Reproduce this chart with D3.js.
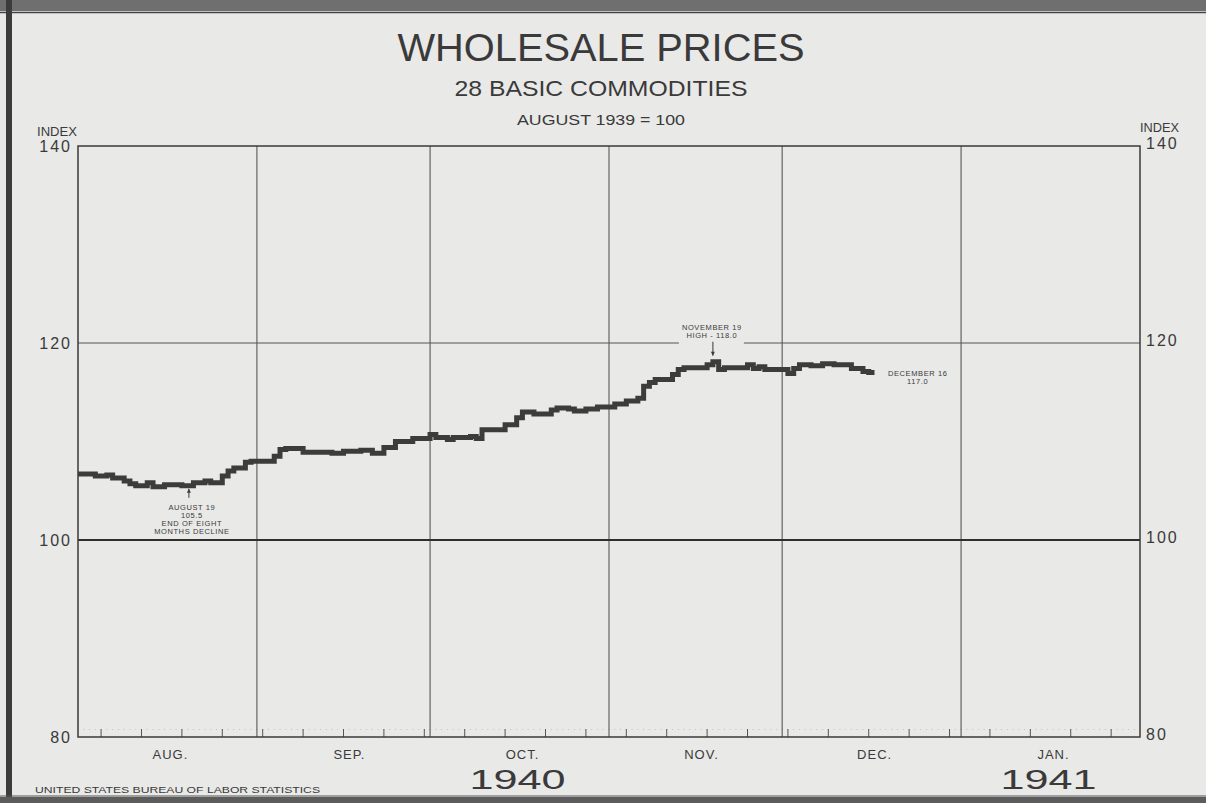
<!DOCTYPE html>
<html>
<head>
<meta charset="utf-8">
<script src="https://cdn.jsdelivr.net/npm/d3@7"></script>
<style>
    body { margin: 0; background: #e9e9e8; }
    svg { display: block; }
    text { font-family: "Liberation Sans", Arial, sans-serif; fill: #3a3a3a; }
</style>
</head>
<body>
<div id="chart"></div>
<script>
// daily index, 28 basic commodities (August 1939 = 100), value holds until next date
const priceDates = ["1940-08-01","1940-08-04","1940-08-06","1940-08-07","1940-08-09","1940-08-10","1940-08-11",
    "1940-08-13","1940-08-14","1940-08-16","1940-08-19","1940-08-21","1940-08-23","1940-08-24","1940-08-26",
    "1940-08-27","1940-08-28","1940-08-30","1940-08-31","1940-09-04","1940-09-05","1940-09-06","1940-09-09",
    "1940-09-14","1940-09-16","1940-09-19","1940-09-21","1940-09-23","1940-09-25","1940-09-28","1940-10-01",
    "1940-10-02","1940-10-04","1940-10-05","1940-10-08","1940-10-09","1940-10-10","1940-10-14","1940-10-16",
    "1940-10-17","1940-10-19","1940-10-22","1940-10-23","1940-10-25","1940-10-26","1940-10-28","1940-10-30",
    "1940-11-02","1940-11-04","1940-11-06","1940-11-07","1940-11-08","1940-11-09","1940-11-12","1940-11-13",
    "1940-11-14","1940-11-18","1940-11-19","1940-11-20","1940-11-21","1940-11-25","1940-11-26","1940-11-27",
    "1940-11-28","1940-12-02","1940-12-03","1940-12-04","1940-12-06","1940-12-08","1940-12-10","1940-12-13",
    "1940-12-15","1940-12-16"];
const priceValues = [106.7,106.5,106.6,106.3,106.0,105.7,105.5,105.8,105.4,105.6,105.5,105.8,106.0,105.8,106.5,
    107.0,107.3,107.9,108.0,108.5,109.2,109.3,108.9,108.8,109.0,109.1,108.8,109.4,110.0,110.3,110.7,
    110.4,110.2,110.4,110.5,110.3,111.2,111.7,112.4,113.0,112.8,113.2,113.4,113.3,113.1,113.3,113.5,
    113.8,114.1,114.4,115.6,116.0,116.3,116.8,117.3,117.5,117.8,118.1,117.3,117.5,117.8,117.4,117.6,
    117.3,116.9,117.4,117.8,117.7,117.9,117.8,117.4,117.1,117.0];

const monthLabels = ["AUG.", "SEP.", "OCT.", "NOV.", "DEC.", "JAN."];
const yearLabels = ["1940", "1941"];
const yearUnder = ["OCT.", "JAN."];
const yTicks = [80, 100, 120, 140];

const lowDate = "1940-08-19", lowValue = 105.5;
const lowLines = ["AUGUST 19", "105.5", "END OF EIGHT", "MONTHS DECLINE"];
const highDate = "1940-11-19", highValue = 118.1;
const highLines = ["NOVEMBER 19", "HIGH - 118.0"];
const lastLines = ["DECEMBER 16", "117.0"];

const width = 1206, height = 803;
const plotLeft = 78, plotRight = 1140, plotTop = 146, plotBottom = 737;
const ink = "#3a3a3a";
const paper = "#e9e9e8";
const parse = d3.timeParse("%Y-%m-%d");

let svg = d3.select("#chart")
    .append("svg")
    .attr("width", width)
    .attr("height", height);

// worn frame of the original plate
svg.append("rect").attr("x", 0).attr("y", 0).attr("width", width).attr("height", 11).attr("fill", "#6f6f6f");
svg.append("line").attr("x1", 0).attr("x2", width).attr("y1", 12.5).attr("y2", 12.5)
    .attr("stroke", "#444").attr("stroke-width", 1.5);
svg.append("rect").attr("x", 6).attr("y", 0).attr("width", 6).attr("height", height).attr("fill", "#3c3c3c");
svg.append("rect").attr("x", 0).attr("y", 797).attr("width", width).attr("height", 6).attr("fill", "#5c5c5c");
svg.append("line").attr("x1", 0).attr("x2", width).attr("y1", 796).attr("y2", 796)
    .attr("stroke", "#555").attr("stroke-width", 1);

let x = d3.scaleTime()
    .domain([new Date(1940, 7, 1), new Date(1941, 1, 1)])
    .range([plotLeft, plotRight]);

let y = d3.scaleLinear()
    .domain([80, 140])
    .range([plotBottom, plotTop]);

let months = d3.timeMonth.range(x.domain()[0], x.domain()[1]);

// titles
function title(txt, cy, size, len) {
    svg.append("text")
        .text(txt)
        .attr("x", width / 2 - 2)
        .attr("y", cy)
        .attr("text-anchor", "middle")
        .attr("font-size", size)
        .attr("textLength", len)
        .attr("lengthAdjust", "spacingAndGlyphs");
}
title("WHOLESALE PRICES", 61, 38, 407);
title("28 BASIC COMMODITIES", 96, 22, 293);
title("AUGUST 1939 = 100", 125, 14, 168);

// dotted daily marks along the base
svg.append("g")
    .selectAll("line")
    .data(d3.timeDay.range(x.domain()[0], x.domain()[1]))
    .enter()
    .append("line")
    .attr("x1", d => x(d)).attr("x2", d => x(d))
    .attr("y1", plotBottom - 8).attr("y2", plotBottom - 7)
    .attr("stroke", "#999").attr("stroke-width", 1).attr("opacity", 0.5);

// weekly ticks
svg.append("g")
    .selectAll("line")
    .data(d3.timeMonday.range(x.domain()[0], x.domain()[1]))
    .enter()
    .append("line")
    .attr("x1", d => x(d)).attr("x2", d => x(d))
    .attr("y1", plotBottom).attr("y2", plotBottom - 8)
    .attr("stroke", "#555").attr("stroke-width", 1);

// month grid
svg.append("g")
    .selectAll("line")
    .data(months.slice(1))
    .enter()
    .append("line")
    .attr("x1", d => x(d)).attr("x2", d => x(d))
    .attr("y1", plotTop).attr("y2", plotBottom)
    .attr("stroke", "#4a4a4a").attr("stroke-width", 1);

svg.append("line")
    .attr("x1", plotLeft).attr("x2", plotRight)
    .attr("y1", y(120)).attr("y2", y(120))
    .attr("stroke", "#555").attr("stroke-width", 1);

svg.append("line")
    .attr("x1", plotLeft).attr("x2", plotRight)
    .attr("y1", y(100)).attr("y2", y(100))
    .attr("stroke", "#2e2e2e").attr("stroke-width", 2);

svg.append("rect")
    .attr("x", plotLeft).attr("y", plotTop)
    .attr("width", plotRight - plotLeft).attr("height", plotBottom - plotTop)
    .attr("fill", "none").attr("stroke", ink).attr("stroke-width", 1.5);

// y axes, both sides
let yLeft = svg.append("g")
    .attr("transform", "translate(" + plotLeft + ",0)")
    .call(d3.axisLeft(y).tickValues(yTicks).tickSize(0).tickPadding(6));
let yRight = svg.append("g")
    .attr("transform", "translate(" + plotRight + ",-3)")
    .call(d3.axisRight(y).tickValues(yTicks).tickSize(0).tickPadding(6));
[yLeft, yRight].forEach(function (g) {
    g.select(".domain").remove();
    g.selectAll("text")
        .attr("font-family", "Liberation Sans, Arial, sans-serif")
        .attr("font-size", 16)
        .attr("fill", ink)
        .attr("letter-spacing", 2);
});

svg.append("text").text("INDEX").attr("x", 37).attr("y", 136)
    .attr("font-size", 12).attr("textLength", 40).attr("lengthAdjust", "spacingAndGlyphs");
svg.append("text").text("INDEX").attr("x", 1140).attr("y", 132)
    .attr("font-size", 12).attr("textLength", 39).attr("lengthAdjust", "spacingAndGlyphs");

// month and year labels
function midMonth(i) {
    return d3.timeHour.offset(months[i], 15 * 24 + 12);
}
svg.append("g")
    .selectAll("text")
    .data(monthLabels)
    .enter()
    .append("text")
    .text(d => d)
    .attr("x", (d, i) => x(midMonth(i)) + 3)
    .attr("y", 759)
    .attr("text-anchor", "middle")
    .attr("font-size", 13)
    .attr("letter-spacing", 1);

svg.append("g")
    .selectAll("text")
    .data(yearLabels)
    .enter()
    .append("text")
    .text(d => d)
    .attr("x", (d, i) => x(midMonth(monthLabels.indexOf(yearUnder[i]))) - 2)
    .attr("y", 789)
    .attr("text-anchor", "middle")
    .attr("font-size", 28)
    .attr("textLength", 96)
    .attr("lengthAdjust", "spacingAndGlyphs");

svg.append("text")
    .text("UNITED STATES BUREAU OF LABOR STATISTICS")
    .attr("x", 35).attr("y", 793)
    .attr("font-size", 9.5)
    .attr("textLength", 285)
    .attr("lengthAdjust", "spacingAndGlyphs");

// price line
let series = priceDates.map((d, i) => ({ date: parse(d), value: priceValues[i] }));
let lastPoint = series[series.length - 1];
series.push({ date: d3.timeDay.offset(lastPoint.date, 1), value: lastPoint.value });

let line = d3.line()
    .x(d => x(d.date))
    .y(d => y(d.value))
    .curve(d3.curveStepAfter);

svg.append("path")
    .datum(series)
    .attr("fill", "none")
    .attr("stroke", "#3c3c3c")
    .attr("stroke-width", 5)
    .attr("stroke-linejoin", "miter")
    .attr("d", line);

// annotations
function arrow(ax, y1, y2) {
    let dir = y2 > y1 ? 1 : -1;
    svg.append("line")
        .attr("x1", ax).attr("x2", ax)
        .attr("y1", y1).attr("y2", y2)
        .attr("stroke", ink).attr("stroke-width", 1);
    svg.append("path")
        .attr("d", "M" + ax + "," + y2 + " l-2," + (-4 * dir) + " l4,0 z")
        .attr("fill", ink);
}

function noteLines(lines, cx, firstY) {
    svg.append("g")
        .selectAll("text")
        .data(lines)
        .enter()
        .append("text")
        .text(d => d)
        .attr("x", cx)
        .attr("y", (d, i) => firstY + i * 8)
        .attr("text-anchor", "middle")
        .attr("font-size", 7.5)
        .attr("letter-spacing", 0.6);
}

let halfDay = 3;
let lowX = x(parse(lowDate)) + halfDay + 4;
arrow(lowX, y(lowValue) + 12, y(lowValue) + 3);
noteLines(lowLines, lowX + 3, y(lowValue) + 24);

let highX = x(parse(highDate)) + halfDay - 3;
// break in the 120 rule behind the label
svg.append("rect")
    .attr("x", highX - 34).attr("y", y(120) - 2)
    .attr("width", 65).attr("height", 4)
    .attr("fill", paper);
arrow(highX, y(highValue) - 20, y(highValue) - 6);
noteLines(highLines, highX - 1, y(highValue) - 32);

let endX = x(lastPoint.date);
noteLines(lastLines, endX + 49, y(lastPoint.value) + 3);
</script>
</body>
</html>
